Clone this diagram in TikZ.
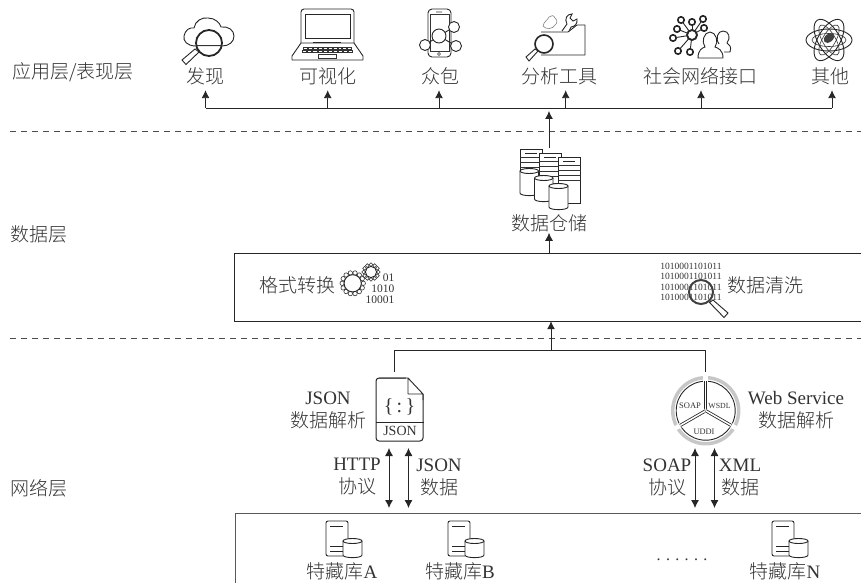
\documentclass[tikz,border=0pt]{standalone}
\usepackage{fontspec}
\setmainfont{Liberation Serif}
\newfontfamily\cjk{Noto Sans CJK SC Light}
\usetikzlibrary{arrows.meta, positioning}
\newcommand{\zh}[1]{{\cjk #1}}
\newcommand{\dbcyl}[4]{% left, top, right, bottom
   \draw[icon, fill=white] (#1,#2) -- (#1,#4) .. controls (#1,#4+3.5) and (#3,#4+3.5) .. (#3,#4) -- (#3,#2);
   \draw[icon, fill=white] ({(#1+#3)/2},#2) ellipse [x radius={(#3-#1)/2}, y radius=2.5];
}
\definecolor{inkgray}{gray}{0.2}
\definecolor{ringgray}{gray}{0.78}
\tikzset{
   lbl/.style={font=\fontsize{19}{23}\selectfont, text=inkgray, align=center, inner sep=0pt, text height=16pt, text depth=2pt},
   lbltwo/.style={font=\fontsize{19}{23}\selectfont, text=inkgray, align=center, inner sep=0pt},
   icon/.style={line width=0.9pt, draw=black!85},
   thinicon/.style={line width=0.6pt, draw=black!80},
   link/.style={line width=0.9pt, draw=black!85},
   uparrow/.style={link, -{Latex[length=8pt,width=8pt]}},
   twoway/.style={link, {Latex[length=8pt,width=8pt]}-{Latex[length=8pt,width=8pt]}},
   sep/.style={line width=0.8pt, draw=black!70, dash pattern=on 6pt off 5pt},
   serverdb/.pic={
      \draw[icon, rounded corners=2pt] (17,35) -- (0,35) -- (0,0) -- (22,0) -- (22,18);
      \draw[icon] (4,5) -- (17,5) (4,25) -- (17,25) (4,30) -- (17,30);
      \dbcyl{17}{20}{36}{34}
   }
}
\begin{document}
\begin{tikzpicture}[x=1pt, y=-1pt]
   \useasboundingbox (0,0) rectangle (861,583);
   % layer separators
   \draw[sep] (10,131) -- (861,131);
   \draw[sep] (10,338) -- (861,338);
   \node[lbl] (layerapp) at (73,72) {\zh{应用层/表现层}};
   \node[lbl] (layerdata) at (39,234) {\zh{数据层}};
   \node[lbl] (layernet) at (39,488) {\zh{网络层}};
   % top row labels
   \node[lbl] (find) at (205,77) {\zh{发现}};
   \node[lbl] (visual) at (328,77) {\zh{可视化}};
   \node[lbl] (crowd) at (440,77) {\zh{众包}};
   \node[lbl] (tools) at (559,77) {\zh{分析工具}};
   \node[lbl] (social) at (700,77) {\zh{社会网络接口}};
   \node[lbl] (other) at (830,77) {\zh{其他}};
   \coordinate (busleft) at (205.5,108);
   \coordinate (busright) at (832,108);
   \draw[link] (busleft) -- (busright);
   \foreach \src/\xpos in {find/205.5, visual/327.7, crowd/439, tools/565.7, social/701, other/832}
      \draw[uparrow, shorten >=4pt] (\xpos,108) -- (\xpos,108 |- \src.south);
   % data warehouse
   \node[lbl] (store) at (549,223) {\zh{数据仓储}};
   \coordinate (storeup) at (549,148);
   \coordinate (busmark) at (549,111);
   \draw[uparrow] (storeup) -- (busmark);
   \foreach \x/\y/\h in {520/149/30, 539/153/30, 558/157/46} {
      \draw[icon, fill=white] (\x,\y) rectangle ++(22.5,\h);
      \foreach \k in {8,13,18,23}
         \draw[thinicon] (\x,\y+\k) -- ++(22.5,0);
      \draw[icon] (\x+5,\y+4.5) -- ++(12,0);
   }
   \dbcyl{520}{171}{538.5}{193}
   \dbcyl{534.5}{178}{553}{199}
   \dbcyl{549}{186}{568}{207}
   % format and cleaning box, open on its right side
   \node[minimum width=626pt, minimum height=67pt, inner sep=0pt] (convbox) at (548,287.5) {};
   \draw[line width=1pt, draw=black!85] (convbox.north east) -- (convbox.north west) -- (convbox.south west) -- (convbox.south east);
   \draw[uparrow] (convbox.north -| store) -- ++(0,-21);
   \node[lbl] (convert) at (297,285) {\zh{格式转换}};
   \node[font=\fontsize{11.5}{11}\selectfont, text=inkgray, align=right, inner sep=0pt] (bits) at (380,289) {01\\1010\\10001};
   \foreach \cx/\cy/\ra/\rb/\rc/\n in {352.7/283.3/10.6/8.6/2.2/14, 371/272/7.4/5.6/1.9/12} {
      \foreach \i in {1,...,\n}
         \draw[thinicon] ({\cx+\ra*cos(360*\i/\n)},{\cy+\ra*sin(360*\i/\n)}) circle (\rc);
      \draw[icon, fill=white] (\cx,\cy) circle (\rb);
   }
   \node[font=\fontsize{9.5}{10.3}\selectfont, text=inkgray, align=center, inner sep=0pt] (binary) at (691,282) {1010001101011\\1010001101011\\1010001101011\\1010001101011};
   \draw[line width=2pt, draw=black!75] (701,292) circle (12);
   \draw[icon, fill=white] (709.5,302.5) -- (713,300) -- (728,313) -- (724,317.5) -- cycle;
   \node[lbl] (clean) at (765,285) {\zh{数据清洗}};
   % parsers
   \coordinate (busmid) at (551,350);
   \coordinate (jsonup) at (394,372);
   \coordinate (webup) at (705,372);
   \draw[link] (jsonup) -- (jsonup |- busmid) -- (webup |- busmid) -- (webup);
   \draw[uparrow] (busmid) -- (convbox.south -| busmid);
   \node[draw=black!85, line width=1pt, rounded corners=3pt, minimum width=47pt, minimum height=63pt, inner sep=0pt] (jsonicon) at (399.5,409.5) {};
   \fill[white] (406,376.5) rectangle (424.5,394);
   \draw[icon, line join=round] (408,378) -- (423,394) -- (423,400) (379,378) -- (408,378) -- (408,394) -- (423,394);
   \draw[icon] (jsonicon.west |- 0,422) -- (jsonicon.east |- 0,422);
   \node[font=\fontsize{20}{20}\selectfont, text=inkgray, inner sep=0pt] (jsonbrace) at (399.5,407) {\{\,:\,\}};
   \node[font=\fontsize{14}{14}\selectfont, text=inkgray, inner sep=0pt] (jsonname) at (400,431) {JSON};
   \node[lbltwo] (jsonlbl) at (328,410) {JSON\\\zh{数据解析}};
   \node[circle, draw=ringgray, line width=3.5pt, minimum size=66pt, inner sep=0pt] (webring) at (705.7,410.7) {};
   \draw[icon, fill=white] (webring.center) circle (29.5);
   \foreach \ang in {90,210,330} {
      \draw[line width=4.5pt, white] (webring.center) -- ++({35*cos(\ang)},{-35*sin(\ang)});
      \draw[line width=0.8pt, draw=black!85, double=white, double distance=1.5pt] (webring.center) -- ++({29.5*cos(\ang)},{-29.5*sin(\ang)});
   }
   \node[font=\fontsize{8.5}{9}\selectfont, text=inkgray, inner sep=0pt] (soapname) at (690,406) {SOAP};
   \node[font=\fontsize{7.8}{9}\selectfont, text=inkgray, inner sep=0pt] (wsdlname) at (719.5,406) {WSDL};
   \node[font=\fontsize{8.4}{9}\selectfont, text=inkgray, inner sep=0pt] (uddiname) at (704,431.5) {UDDI};
   \node[lbltwo] (weblbl) at (796,410) {Web Service\\\zh{数据解析}};
   % two way links and protocols
   \coordinate (lowend) at (0,508);
   \foreach \xpos in {389,408.5,695,714.5}
      \draw[twoway] (\xpos,448) -- (\xpos,508 |- lowend);
   \node[lbltwo] (httplbl) at (357,477) {HTTP\\\zh{协议}};
   \node[lbltwo] (jsondata) at (439,477) {JSON\\\zh{数据}};
   \node[lbltwo] (soaplbl) at (667,477) {SOAP\\\zh{协议}};
   \node[lbltwo] (xmldata) at (740,477) {XML\\\zh{数据}};
   % collections
   \draw[line width=1pt, draw=black!65] (861,513) -- (235,513) -- (235,583);
   \pic at (326,521) {serverdb};
   \pic at (448,521) {serverdb};
   \pic at (772,521) {serverdb};
   \node[lbl] (banka) at (342,571) {\zh{特藏库}A};
   \node[lbl] (bankb) at (460,571) {\zh{特藏库}B};
   \node[lbl] (bankn) at (785,571) {\zh{特藏库}N};
   \node[lbl, font=\fontsize{16}{16}\selectfont] (dots) at (682,553) {. . . . . .};
   % discover icon
   \draw[icon] (196,46) .. controls (187,46) and (183,41) .. (184,36) .. controls (185,30) and (190,27) .. (194,28) .. controls (195,21) and (202,17) .. (208,18) .. controls (215,18) and (220,23) .. (221,27) .. controls (228,26) and (234,30) .. (234,36) .. controls (234,42) and (229,46) .. (222,46) -- (196,46);
   \draw[line width=1.8pt, draw=black!85, fill=white, fill opacity=0.7] (209,43) circle (13);
   \draw[thinicon] (196,45) -- (222,45);
   \draw[icon, fill=white] (199,52) -- (195,49) -- (182,60) -- (186,64.5) -- cycle;
   % laptop icon
   \draw[icon, rounded corners=3pt] (301,43) -- (301,9) -- (354,9) -- (354,43);
   \draw[icon] (305,14) rectangle (350,38);
   \draw[icon, line join=round] (301,43) -- (354,43) -- (363,56) -- (363,60) -- (292,60) -- (292,56) -- cycle;
   \draw[line width=1.6pt, draw=black!85] (313,42.5) -- (341,42.5);
   \foreach \i in {0,...,9} {
      \draw[thinicon] (303.5+\i*4.9,47) rectangle ++(3.9,2.2);
      \draw[thinicon] (302.5+\i*5.1,50.5) rectangle ++(4.1,2.2);
   }
   \draw[thinicon] (318,54.5) rectangle (336,58);
   % phone icon
   \draw[icon, rounded corners=4pt] (428,9) rectangle (451,57);
   \draw[thinicon] (430,14.5) rectangle (449,51);
   \draw[thinicon] (439,54) circle (1.5) (436,12) -- (442,12);
   \draw[icon] (425,45) -- (439,36) -- (454,27) (439,36) -- (456,46);
   \foreach \cx/\cy/\r in {454/27/5.5, 439/36/7, 425/45/5.5, 456/46/5.5}
      \draw[icon, fill=white] (\cx,\cy) circle (\r);
   % tools icon
   \draw[icon, line join=round] (541,32) -- (568,32) -- (577,25) -- (585,25) -- (585,55) -- (541,55);
   \draw[thinicon, draw=black!50] (543,26) .. controls (544,21) and (548,20) .. (549,17) .. controls (551,15) and (554,15) .. (555,18) .. controls (558,20) and (557,24) .. (555,25) .. controls (553,29) and (546,30) .. cycle;
   \draw[icon, fill=white] (562,31) -- (567,24) .. controls (564,19) and (567,14) .. (572,14) -- (570,18) -- (573,21) -- (577,19) .. controls (578,24) and (574,27) .. (571,27) -- (569,31);
   \draw[line width=1.6pt, draw=black!85, fill=white] (544,44) circle (9);
   \draw[icon, fill=white] (538,51) -- (535,49) -- (526,57) -- (529,61) -- cycle;
   % social icon
   \foreach \cx/\cy in {681/20, 692/22, 703/19, 704/28, 677/29, 673/38, 678/51, 690/52} {
      \draw[icon] (692,35) -- (\cx,\cy);
      \draw[line width=1.6pt, draw=black!85, fill=white] (\cx,\cy) circle (3.2);
   }
   \draw[line width=1.9pt, draw=black!85, fill=white] (692,35) circle (5);
   \draw[icon, fill=white] (698,58) .. controls (698,50) and (702,48) .. (705,47) .. controls (701,42) and (704,32) .. (710,32) .. controls (716,32) and (719,42) .. (715,47) .. controls (718,48) and (723,50) .. (723,58) -- cycle;
   \draw[icon] (719,44) .. controls (715,38) and (718,31) .. (723,31) .. controls (729,31) and (731,38) .. (727,43) .. controls (729,45) and (732,46) .. (730,52) -- (724,52);
   % atom icon
   \foreach \ang in {0,60,120} {
      \draw[icon, rotate around={\ang:(829,40)}] (829,40) ellipse [x radius=23, y radius=11];
      \draw[thinicon, rotate around={\ang:(829,40)}] (829,40) ellipse [x radius=17, y radius=6.5];
   }
   \fill[black!75, rotate around={40:(829,38)}] (829,38) ellipse [x radius=6, y radius=4];
\end{tikzpicture}
\end{document}
